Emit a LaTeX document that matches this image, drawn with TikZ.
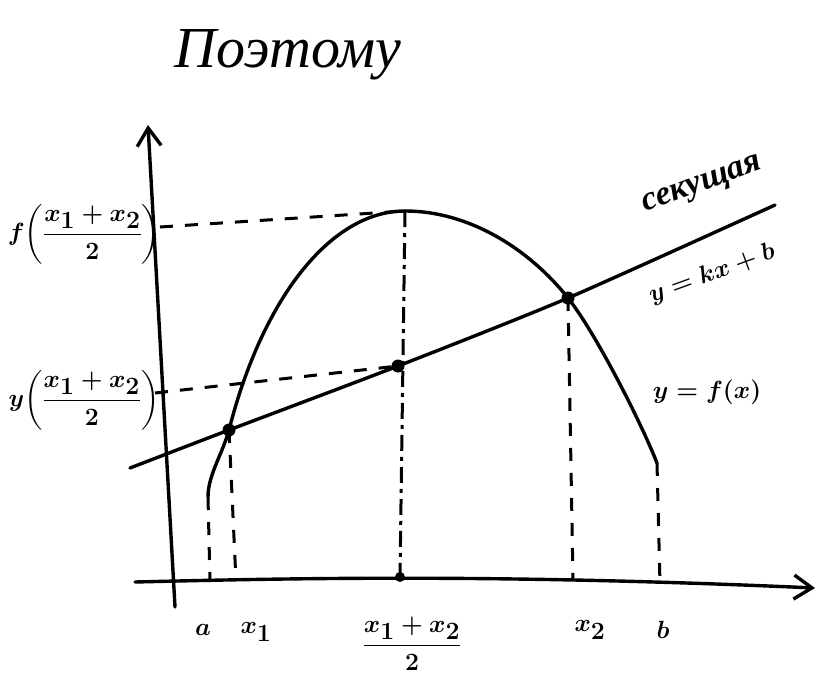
\documentclass[tikz,border=0pt]{standalone}
\usepackage{fontspec}
\usepackage{amsmath}
\newfontfamily\titlefont{Liberation Serif}
\usetikzlibrary{arrows.meta,calc}
\tikzset{
  thick line/.style={line width=3.4pt, line cap=round, line join=round},
  axis arrow/.style={thick line, -{Straight Barb[length=18pt,width=24pt,line width=3.4pt]}},
  guide/.style={line width=3pt, dash pattern=on 13pt off 12pt},
  guide dashdot/.style={line width=3pt, dash pattern=on 16pt off 6pt on 4pt off 6pt},
  pt dot/.style={circle, fill=black, inner sep=0pt, minimum size=13pt},
  lbl/.style={inner sep=0pt, font=\boldmath\fontsize{36}{40}\selectfont},
  sidelbl/.style={inner sep=0pt, font=\boldmath\fontsize{33}{38}\selectfont},
}
\begin{document}
\begin{tikzpicture}[x=1pt,y=-1pt]
\useasboundingbox (0,0) rectangle (823,681);
% axes
\coordinate (xs) at (135,582);
\coordinate (xe) at (815,588);
\coordinate (ys) at (175,607);
\coordinate (ye) at (148,125);
\draw[axis arrow] (xs) .. controls (300,578) and (500,574) .. (xe);
\draw[axis arrow] (ys) -- (ye);
% key points
\coordinate (sA) at (130,468);
\coordinate (sB) at (775,205);
\coordinate (P1) at (229,430);
\coordinate (PM) at (398,366);
\coordinate (P2) at (568,298);
\coordinate (top) at (405,211);
\coordinate (ca) at (208,497);
\coordinate (cb) at (657,463);
% curve
\draw[thick line] (ca) .. controls (208,475) and (222,455) .. (P1)
  .. controls (262,300) and (330,211) .. (top)
  .. controls (470,211) and (530,250) .. (P2)
  .. controls (595,332) and (640,420) .. (cb);
% secant
\draw[thick line] plot[smooth, tension=0.4] coordinates {(sA) (P1) (PM) (P2) (sB)};
% foot coordinates on x-axis
\coordinate (fa) at (210,582);
\coordinate (f1) at (236,581);
\coordinate (fm) at (400,577);
\coordinate (f2) at (573,580);
\coordinate (fb) at (660,584);
% guides
\draw[guide] (ca) -- (fa);
\draw[guide] (P1) -- (f1);
\draw[guide dashdot] (top) -- (fm);
\draw[guide] (P2) -- (f2);
\draw[guide] (cb) -- (fb);
\coordinate (hf) at (160,227);
\coordinate (hy) at (155,393);
\draw[guide] (hf) -- (top);
\draw[guide] (hy) -- (PM);
% dots
\node[pt dot] (d1) at (P1) {};
\node[pt dot] (dm) at (PM) {};
\node[pt dot] (d2) at (P2) {};
\node[pt dot, minimum size=10pt] (d0) at (fm) {};
% labels
\node[inner sep=0pt, font=\titlefont\itshape\fontsize{58}{62}\selectfont] (title) at (288,55) {Поэтому};
\node[inner sep=0pt, rotate=20, font=\titlefont\bfseries\itshape\fontsize{34}{38}\selectfont] (sec) at (703,186) {секущая};
\node[lbl, rotate=20] (eqs) at (712,274) {$y=kx+b$};
\node[lbl] (eqf) at (707,392) {$y=f(x)$};
\node[sidelbl] (lf) at (84,234) {$f\!\left(\dfrac{x_1+x_2}{2}\right)$};
\node[sidelbl] (ly) at (84,400) {$y\!\left(\dfrac{x_1+x_2}{2}\right)$};
\node[lbl] (la) at (203,630) {$a$};
\node[lbl] (lx1) at (256,632) {$x_1$};
\node[lbl, anchor=north] (lm) at (412,617) {$\dfrac{x_1+x_2}{2}$};
\node[lbl] (lx2) at (590,630) {$x_2$};
\node[lbl] (lb) at (663,630) {$b$};
\end{tikzpicture}
\end{document}
